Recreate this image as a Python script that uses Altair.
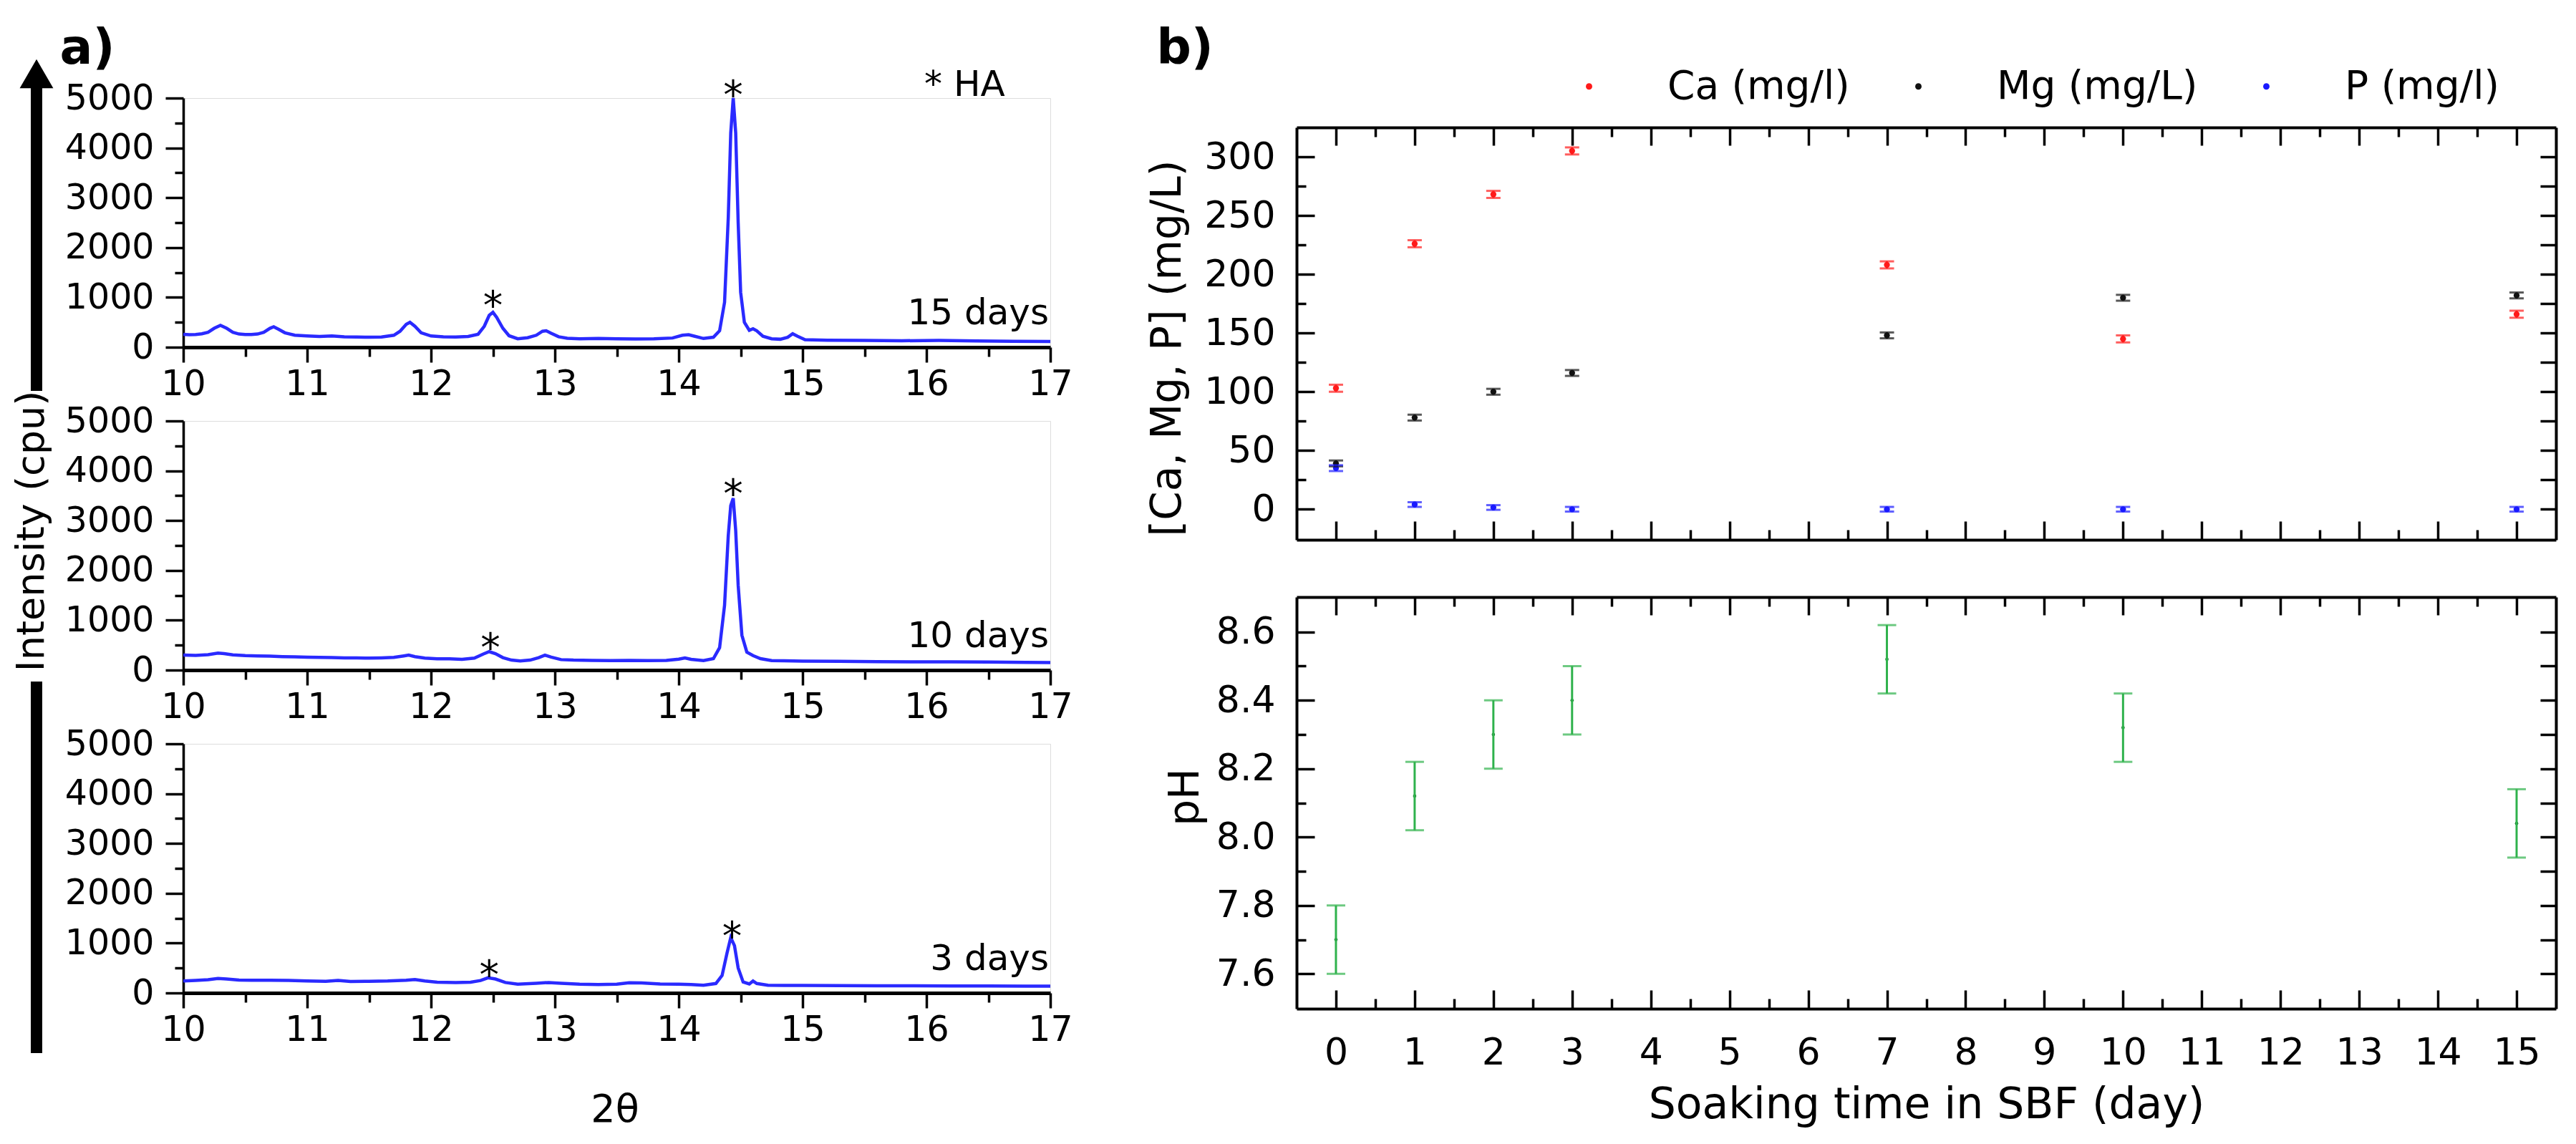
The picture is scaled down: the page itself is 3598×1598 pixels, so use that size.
import altair as alt
import pandas as pd

FONT = "DejaVu Sans"
LINE_BLUE = "#2a2aff"

# ---------------- panel a : XRD patterns (2theta, intensity cpu) ----------------
xrd_15days = [
    (10.00, 260), (10.05, 250), (10.10, 255), (10.15, 270), (10.20, 300), (10.25, 380),
    (10.30, 440), (10.35, 380), (10.40, 300), (10.45, 265), (10.50, 255), (10.55, 255),
    (10.60, 265), (10.65, 300), (10.70, 380), (10.73, 410), (10.77, 360), (10.82, 290),
    (10.90, 240), (11.00, 225), (11.10, 215), (11.20, 225), (11.30, 210), (11.40, 205),
    (11.50, 200), (11.60, 205), (11.70, 240), (11.75, 320), (11.80, 460), (11.83, 500),
    (11.87, 420), (11.92, 290), (12.00, 225), (12.10, 210), (12.20, 205), (12.30, 215),
    (12.38, 260), (12.43, 420), (12.47, 640), (12.50, 700), (12.53, 600), (12.58, 380),
    (12.63, 230), (12.70, 170), (12.78, 190), (12.85, 240), (12.90, 320), (12.93, 330),
    (12.97, 280), (13.03, 210), (13.10, 180), (13.20, 170), (13.35, 175), (13.50, 170),
    (13.65, 165), (13.80, 170), (13.95, 185), (14.03, 240), (14.08, 250), (14.13, 220),
    (14.20, 175), (14.28, 200), (14.33, 330), (14.37, 900), (14.40, 2600), (14.42, 4300),
    (14.44, 5000), (14.46, 4300), (14.48, 2500), (14.50, 1100), (14.53, 500), (14.57, 340),
    (14.60, 370), (14.63, 330), (14.68, 220), (14.75, 170), (14.82, 160), (14.88, 200),
    (14.92, 270), (14.96, 220), (15.02, 150), (15.20, 140), (15.50, 135), (15.80, 130),
    (16.10, 135), (16.40, 125), (16.70, 120), (17.00, 115),
]
stars_15days = [(12.50, 1000), (14.44, 5230)]

xrd_10days = [
    (10.00, 300), (10.10, 295), (10.20, 310), (10.28, 340), (10.33, 330), (10.40, 305),
    (10.50, 290), (10.60, 285), (10.70, 280), (10.80, 270), (10.90, 265), (11.00, 260),
    (11.10, 255), (11.20, 250), (11.30, 245), (11.40, 245), (11.50, 240), (11.60, 245),
    (11.70, 255), (11.78, 285), (11.82, 300), (11.87, 270), (11.95, 240), (12.05, 225),
    (12.15, 225), (12.25, 215), (12.35, 240), (12.42, 320), (12.47, 370), (12.52, 330),
    (12.58, 250), (12.65, 200), (12.72, 185), (12.80, 200), (12.87, 250), (12.92, 300),
    (12.97, 260), (13.05, 210), (13.15, 200), (13.30, 195), (13.45, 190), (13.60, 195),
    (13.75, 190), (13.90, 195), (14.00, 220), (14.05, 245), (14.10, 215), (14.20, 190),
    (14.28, 230), (14.33, 450), (14.37, 1300), (14.40, 2700), (14.42, 3300), (14.44, 3450),
    (14.46, 2800), (14.48, 1700), (14.51, 700), (14.55, 360), (14.60, 290), (14.66, 230),
    (14.75, 190), (14.85, 185), (15.00, 180), (15.30, 175), (15.60, 170), (15.90, 165),
    (16.20, 165), (16.50, 160), (16.80, 155), (17.00, 150),
]
stars_10days = [(12.48, 616), (14.44, 3710)]

xrd_3days = [
    (10.00, 240), (10.10, 250), (10.20, 265), (10.28, 290), (10.35, 280), (10.45, 260),
    (10.55, 255), (10.70, 255), (10.85, 250), (11.00, 240), (11.15, 235), (11.25, 250),
    (11.35, 230), (11.50, 235), (11.65, 240), (11.80, 255), (11.87, 270), (11.95, 240),
    (12.05, 215), (12.20, 210), (12.32, 215), (12.40, 250), (12.46, 305), (12.52, 280),
    (12.60, 210), (12.70, 175), (12.85, 195), (12.95, 210), (13.05, 195), (13.20, 175),
    (13.35, 170), (13.50, 175), (13.60, 205), (13.70, 200), (13.85, 180), (14.00, 175),
    (14.10, 170), (14.20, 155), (14.30, 190), (14.35, 350), (14.39, 800), (14.42, 1110),
    (14.45, 950), (14.48, 500), (14.52, 220), (14.57, 180), (14.60, 240), (14.63, 190),
    (14.72, 155), (14.85, 150), (15.00, 150), (15.30, 148), (15.60, 145), (15.90, 145),
    (16.20, 140), (16.50, 140), (16.80, 135), (17.00, 135),
]
stars_3days = [(12.47, 532), (14.43, 1310)]

theta_major = [10, 11, 12, 13, 14, 15, 16, 17]
theta_minor = [10.5, 11.5, 12.5, 13.5, 14.5, 15.5, 16.5]
int_major = [0, 1000, 2000, 3000, 4000, 5000]
int_minor = [500, 1500, 2500, 3500, 4500]

# ---------------- panel b : ion concentration and pH ----------------
days = [0, 1, 2, 3, 7, 10, 15]
ca_mg_l = [103, 226, 268, 305, 208, 145, 166]
ca_err = [3, 3, 3, 3, 3, 3, 3]
mg_mg_l = [39, 78, 100, 116, 148, 180, 182]
mg_err = [2.5, 2.5, 2.5, 2.5, 2.5, 2.5, 2.5]
p_mg_l = [35, 4, 1.5, 0, 0, 0, 0]
p_err = [2.5, 2, 2, 2, 2, 2, 2]
ph_val = [7.70, 8.12, 8.30, 8.40, 8.52, 8.32, 8.04]
ph_err = [0.10, 0.10, 0.10, 0.10, 0.10, 0.10, 0.10]

species = ["Ca (mg/l)", "Mg (mg/L)", "P (mg/l)"]
species_colors = ["#ff1a1a", "#111111", "#1a1aff"]
PH_GREEN = "#2fb24c"

day_major = list(range(16))
day_minor = [0.5, 1.5, 2.5, 3.5, 4.5, 5.5, 6.5, 7.5, 8.5, 9.5, 10.5, 11.5, 12.5, 13.5, 14.5]
conc_major = [0, 50, 100, 150, 200, 250, 300]
conc_minor = [25, 75, 125, 175, 225, 275]
conc_all = [0, 25, 50, 75, 100, 125, 150, 175, 200, 225, 250, 275, 300]
ph_major = [7.6, 7.8, 8.0, 8.2, 8.4, 8.6]
ph_minor = [7.7, 7.9, 8.1, 8.3, 8.5]
ph_all = [7.6, 7.7, 7.8, 7.9, 8.0, 8.1, 8.2, 8.3, 8.4, 8.5, 8.6]

# ---------------- layout constants ----------------
AW, AH = 1211, 348
BW, CH, PHH = 1759, 576, 575

one = pd.DataFrame({"k": [0]})


def ax(**kw):
    base = dict(grid=False, title=None, tickWidth=3.5, labelFlush=False,
                labelOverlap=False, tickColor="black", domainColor="black",
                labelColor="black", labelFont=FONT)
    base.update(kw)
    return alt.Axis(**base)


def tick_axis(orient, offset, values, size, domain=False):
    return ax(orient=orient, offset=offset, values=values, tickSize=size,
              labels=False, domain=domain, domainWidth=4)


def xrd_panel(pairs, stars, label, extra_layers):
    df = pd.DataFrame(pairs, columns=["theta", "I"])
    sdf = pd.DataFrame(stars, columns=["theta", "I"])
    xs = alt.Scale(domain=[10, 17], nice=False, zero=False)
    ys = alt.Scale(domain=[0, 5000], nice=False, zero=False)

    def X(axis):
        return alt.X("theta:Q", scale=xs, axis=axis)

    def Y(axis):
        return alt.Y("I:Q", scale=ys, axis=axis)

    line = alt.Chart(df).mark_line(color=LINE_BLUE, strokeWidth=4.5).encode(
        x=X(ax(orient="bottom", values=theta_major, tickSize=21, domainWidth=5,
               labelFontSize=49, labelPadding=6, format="d")),
        y=Y(ax(orient="left", values=int_major, tickSize=25, domainWidth=3.5,
               labelFontSize=49, labelPadding=16, format="d")),
    )
    minor = alt.Chart(df).mark_line(opacity=0).encode(
        x=X(ax(orient="bottom", values=theta_minor, tickSize=13, labels=False, domain=False)),
        y=Y(ax(orient="left", values=int_minor, tickSize=12, labels=False, domain=False)),
    )
    star = alt.Chart(sdf).mark_text(text="*", fontSize=55, dy=14, color="black", font=FONT).encode(
        x=X(None), y=Y(None))
    day = alt.Chart(one).mark_text(text=label, fontSize=50, align="right", baseline="alphabetic",
                                   color="black", font=FONT).encode(
        x=alt.value(1209), y=alt.value(316))
    return alt.layer(line, minor, star, day, *extra_layers).resolve_axis(
        x="independent", y="independent").properties(width=AW, height=AH)


top_extra = [
    alt.Chart(one).mark_text(text="a)", fontSize=68, fontWeight="bold", align="center",
                             baseline="middle", color="black", font=FONT).encode(
        x=alt.value(-134), y=alt.value(-68)),
    alt.Chart(one).mark_text(text="* HA", fontSize=50, align="left", baseline="alphabetic",
                             color="black", font=FONT).encode(
        x=alt.value(1035), y=alt.value(-3)),
]
mid_extra = [
    alt.Chart(one).mark_rule(strokeWidth=16, color="black").encode(
        x=alt.value(-205), y=alt.value(-465), y2=alt.value(-42)),
    alt.Chart(one).mark_rule(strokeWidth=16, color="black").encode(
        x=alt.value(-205), y=alt.value(364), y2=alt.value(883)),
    alt.Chart(one).mark_point(shape="triangle-up", filled=True, size=2200, color="black",
                              opacity=1).encode(x=alt.value(-205), y=alt.value(-485)),
    alt.Chart(one).mark_text(text="Intensity (cpu)", fontSize=54, angle=270, align="center",
                             baseline="middle", color="black", font=FONT).encode(
        x=alt.value(-211), y=alt.value(154)),
]
bot_extra = [
    alt.Chart(one).mark_text(text="2θ", fontSize=54, align="center", baseline="middle",
                             color="black", font=FONT).encode(
        x=alt.value(603), y=alt.value(512)),
]

top = xrd_panel(xrd_15days, stars_15days, "15 days", top_extra)
mid = xrd_panel(xrd_10days, stars_10days, "10 days", mid_extra)
bot = xrd_panel(xrd_3days, stars_3days, "3 days", bot_extra)
panel_a = alt.vconcat(top, mid, bot, spacing=103, bounds="flush")

# ---------------- panel b charts ----------------
conc_df = pd.DataFrame({
    "day": days * 3,
    "species": [species[0]] * 7 + [species[1]] * 7 + [species[2]] * 7,
    "v": ca_mg_l + mg_mg_l + p_mg_l,
    "e": ca_err + mg_err + p_err,
})
conc_df["lo"] = conc_df["v"] - conc_df["e"]
conc_df["hi"] = conc_df["v"] + conc_df["e"]

ph_df = pd.DataFrame({"day": days, "v": ph_val, "e": ph_err})
ph_df["lo"] = ph_df["v"] - ph_df["e"]
ph_df["hi"] = ph_df["v"] + ph_df["e"]

bxs = alt.Scale(domain=[-0.5, 15.5], nice=False, zero=False)
cys = alt.Scale(domain=[-26, 325], nice=False, zero=False)
pys = alt.Scale(domain=[7.498, 8.702], nice=False, zero=False)


def colr(legend):
    return alt.Color("species:N", scale=alt.Scale(domain=species, range=species_colors),
                     legend=legend)


legend_obj = alt.Legend(title=None, orient="none", legendX=1936, legendY=-44,
                        direction="horizontal", symbolType="circle", symbolSize=80,
                        symbolStrokeWidth=0, symbolOpacity=1, labelFontSize=55,
                        labelFont=FONT, labelColor="black", labelOffset=82,
                        labelLimit=600, columnPadding=68, padding=0)

c_pts = alt.Chart(conc_df).mark_point(filled=True, size=70, opacity=1).encode(
    x=alt.X("day:Q", scale=bxs, axis=tick_axis("top", -CH, day_major, 26, True)),
    y=alt.Y("v:Q", scale=cys, axis=tick_axis("right", -BW, conc_major, 25, True)),
    color=colr(legend_obj))
c_bar = alt.Chart(conc_df).mark_rule(strokeWidth=3).encode(
    x=alt.X("day:Q", scale=bxs, axis=tick_axis("top", -CH, day_minor, 14)),
    y=alt.Y("lo:Q", scale=cys, axis=tick_axis("right", -BW, conc_minor, 13)),
    y2="hi:Q", color=colr(None))
c_lo = alt.Chart(conc_df).mark_tick(orient="horizontal", size=20, thickness=3).encode(
    x=alt.X("day:Q", scale=bxs, axis=tick_axis("bottom", -CH, day_major, 25, True)),
    y=alt.Y("lo:Q", scale=cys, axis=tick_axis("left", -BW, conc_all, 22, True)),
    color=colr(None))
c_hi = alt.Chart(conc_df).mark_tick(orient="horizontal", size=20, thickness=3).encode(
    x=alt.X("day:Q", scale=bxs, axis=tick_axis("bottom", -CH, day_minor, 13)),
    y=alt.Y("hi:Q", scale=cys, axis=ax(
        orient="left", ticks=False, tickSize=0, domain=False, values=conc_major,
        labelFontSize=52, labelPadding=30, format="d",
        title="[Ca, Mg, P] (mg/L)", titleFont=FONT, titleFontSize=58, titleFontWeight="normal",
        titleColor="black", titleX=-180, titleY=308, titleAngle=270, titleAlign="center",
        titleBaseline="middle")),
    color=colr(None))
b_label = alt.Chart(one).mark_text(text="b)", fontSize=68, fontWeight="bold", align="center",
                                   baseline="middle", color="black", font=FONT).encode(
    x=alt.value(-156), y=alt.value(-109))
conc_chart = alt.layer(c_pts, c_bar, c_lo, c_hi, b_label).resolve_axis(
    x="independent", y="independent").properties(width=BW, height=CH)

p_pts = alt.Chart(ph_df).mark_point(filled=True, size=22, opacity=1, color="#1a7a30").encode(
    x=alt.X("day:Q", scale=bxs, axis=tick_axis("top", -PHH, day_major, 26, True)),
    y=alt.Y("v:Q", scale=pys, axis=tick_axis("right", -BW, ph_major, 25, True)))
p_bar = alt.Chart(ph_df).mark_rule(strokeWidth=3, color=PH_GREEN).encode(
    x=alt.X("day:Q", scale=bxs, axis=tick_axis("top", -PHH, day_minor, 14)),
    y=alt.Y("lo:Q", scale=pys, axis=tick_axis("right", -BW, ph_minor, 13)),
    y2="hi:Q")
p_lo = alt.Chart(ph_df).mark_tick(orient="horizontal", size=26, thickness=3, color=PH_GREEN).encode(
    x=alt.X("day:Q", scale=bxs, axis=tick_axis("bottom", -PHH, day_major, 25, True)),
    y=alt.Y("lo:Q", scale=pys, axis=tick_axis("left", -BW, ph_all, 22, True)))
p_hi = alt.Chart(ph_df).mark_tick(orient="horizontal", size=26, thickness=3, color=PH_GREEN).encode(
    x=alt.X("day:Q", scale=bxs, axis=tick_axis("bottom", -PHH, day_minor, 13)),
    y=alt.Y("hi:Q", scale=pys, axis=ax(
        orient="left", ticks=False, tickSize=0, domain=False, values=ph_major,
        labelFontSize=52, labelPadding=30, format=".1f",
        title="pH", titleFont=FONT, titleFontSize=58, titleFontWeight="normal",
        titleColor="black", titleX=-155, titleY=279, titleAngle=270, titleAlign="center",
        titleBaseline="middle")))
p_xlab = alt.Chart(ph_df).mark_point(opacity=0).encode(
    x=alt.X("day:Q", scale=bxs, axis=ax(
        orient="bottom", ticks=False, tickSize=0, domain=False, values=day_major,
        labelFontSize=52, labelPadding=36, format="d",
        title="Soaking time in SBF (day)", titleFont=FONT, titleFontSize=60,
        titleFontWeight="normal", titleColor="black", titleX=BW / 2, titleY=134,
        titleAngle=0, titleAlign="center", titleBaseline="middle")),
    y=alt.Y("v:Q", scale=pys, axis=None))
ph_chart = alt.layer(p_pts, p_bar, p_lo, p_hi, p_xlab).resolve_axis(
    x="independent", y="independent").properties(width=BW, height=PHH)

spacer = alt.Chart(one).mark_point(opacity=0).properties(width=BW, height=1)
panel_b_inner = alt.vconcat(conc_chart, ph_chart, spacing=80, bounds="flush")
panel_b = alt.vconcat(spacer, panel_b_inner, spacing=40, bounds="flush")

# with flush bounds the nested panel a counts as zero width, so the spacing
# carries panel a's plot width plus the gap between the panels
chart = alt.hconcat(panel_a, panel_b, spacing=AW + 344, bounds="flush").properties(
    padding={"left": 9, "top": 26, "right": 5, "bottom": 5},
    background="white",
).configure_view(strokeWidth=0).configure_axis(grid=False).configure(font=FONT)

chart.save("out.html", embed_options={"renderer": "svg", "actions": False})
